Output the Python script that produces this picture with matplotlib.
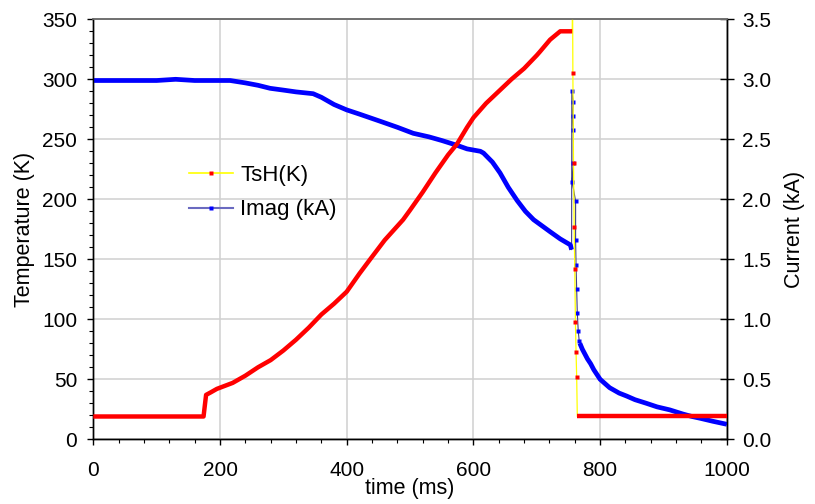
import matplotlib
matplotlib.use("Agg")
import matplotlib.pyplot as plt
from matplotlib.lines import Line2D
from matplotlib.ticker import MultipleLocator

plt.rcParams['font.family'] = ['Liberation Sans', 'DejaVu Sans']

# --- sensor temperature TsH (K) ---
tsh_pre_t = [0, 20, 40, 60, 80, 100, 120, 140, 160, 174, 176, 178, 185, 195, 200,
             220, 240, 260, 280, 300, 320, 340, 360, 380, 400, 420, 437, 460, 489,
             500, 520, 540, 560, 574, 590, 600, 620, 640, 660, 680, 700, 705, 721,
             737, 746, 756]
tsh_pre = [19, 19, 19, 19, 19, 19, 19, 19, 19, 19, 28, 37, 39, 42, 43,
           47, 53, 60, 66, 74, 83, 93, 104, 113, 123, 138, 150, 166, 183,
           191, 206, 222, 237, 246, 260, 268, 280, 290, 300, 309, 320, 323, 333,
           340, 340, 340]
tsh_drop_t = [756.5, 757, 758, 759, 760, 761, 762, 763]
tsh_drop = [372, 305, 230, 177, 142, 98, 73, 52]
tsh_post_t = [764, 800, 850, 900, 950, 1000]
tsh_post = [19, 19, 19, 19, 19, 19]

# --- magnet current Imag (kA) ---
imag_pre_t = [0, 50, 100, 130, 160, 200, 216, 240, 260, 279, 300, 320, 347, 360,
              380, 400, 420, 453, 480, 505, 530, 550, 574, 590, 611, 616, 630,
              642, 655, 669, 682, 695, 708, 721, 737, 753, 755]
imag_pre = [2.99, 2.99, 2.99, 3.00, 2.99, 2.99, 2.99, 2.97, 2.95, 2.925, 2.91,
            2.895, 2.88, 2.85, 2.79, 2.745, 2.71, 2.65, 2.60, 2.55, 2.52, 2.49,
            2.45, 2.42, 2.40, 2.385, 2.31, 2.22, 2.10, 1.99, 1.90, 1.83, 1.78,
            1.73, 1.67, 1.62, 1.58]
imag_spike_t = [755.3, 757.7, 756.5, 757.7, 757.7, 756.0, 761.3, 761.3, 762,
                763, 764, 765.5, 767]
imag_spike = [2.90, 2.81, 2.69, 2.58, 2.30, 2.145, 1.985, 1.66, 1.45, 1.25,
              1.05, 0.90, 0.82]
imag_post_t = [768, 772, 776, 780, 785, 790, 795, 800, 815, 830, 842, 855, 873,
               890, 910, 931, 945, 958, 978, 1000]
imag_post = [0.80, 0.75, 0.71, 0.67, 0.63, 0.58, 0.54, 0.50, 0.43, 0.385, 0.36,
             0.33, 0.30, 0.27, 0.245, 0.21, 0.19, 0.175, 0.15, 0.125]

x_ticks = [0, 200, 400, 600, 800, 1000]
temp_ticks = [0, 50, 100, 150, 200, 250, 300, 350]
curr_ticks = [0.0, 0.5, 1.0, 1.5, 2.0, 2.5, 3.0, 3.5]

FS_TICK = 15
FS_LABEL = 15.5
FS_LEG = 16

fig = plt.figure(figsize=(8.15, 5.04), dpi=100)
ax2 = fig.add_axes([0.1145, 0.1284, 0.7773, 0.8333])   # current axis (drawn below)
ax = fig.add_axes([0.1145, 0.1284, 0.7773, 0.8333], sharex=ax2)  # temperature axis
ax.set_zorder(ax2.get_zorder() + 1)
ax.patch.set_visible(False)

# current: dense band for the slow parts, thin line through the quench spike
all_it = imag_pre_t + imag_spike_t + imag_post_t
all_i = imag_pre + imag_spike + imag_post
ax2.plot(all_it, all_i, color='#404088', lw=0.8, zorder=2)
ax2.plot(imag_pre_t, imag_pre, color='#0000ff', lw=3.4, solid_capstyle='butt', zorder=3)
ax2.plot(imag_post_t, imag_post, color='#0000ff', lw=3.4, solid_capstyle='butt', zorder=3)
ax2.plot(imag_spike_t, imag_spike, ls='none', marker='s', ms=3.3, color='#0000ff',
         mec='none', zorder=4)

# temperature: red marker band with yellow connecting line
all_tt = tsh_pre_t + tsh_drop_t + tsh_post_t
all_k = tsh_pre + tsh_drop + tsh_post
ax.plot(all_tt, all_k, color='#ffff00', lw=0.9, zorder=2)
ax.plot(tsh_pre_t, tsh_pre, color='#ff0000', lw=3.2, solid_capstyle='butt', zorder=3)
ax.plot(tsh_post_t, tsh_post, color='#ff0000', lw=3.2, solid_capstyle='butt', zorder=3)
ax.plot(tsh_drop_t, tsh_drop, ls='none', marker='s', ms=3.3, color='#ff0000',
        mec='none', zorder=4)

ax.set_xlim(0, 1000)
ax.set_ylim(0, 350)
ax2.set_ylim(0, 3.5)

# grid on the lower axes so it stays under every curve
ax2.set_yticks(curr_ticks)
ax2.set_xticks(x_ticks)
ax2.grid(True, color='#d0d0d0', lw=1.1)
ax2.set_axisbelow(True)

ax.set_xticks(x_ticks)
ax.set_yticks(temp_ticks)
ax.xaxis.set_minor_locator(MultipleLocator(40))
ax.yaxis.set_minor_locator(MultipleLocator(10))

ax.tick_params(axis='both', which='major', direction='out', length=4.5, width=1,
               labelsize=FS_TICK, color='black')
ax.tick_params(axis='both', which='minor', direction='out', length=2.8, width=0.8)
ax.tick_params(axis='y', which='both', right=False)
ax.tick_params(axis='y', which='major', pad=7)
ax.tick_params(axis='x', which='major', pad=11)

ax2.yaxis.tick_right()
ax2.yaxis.set_label_position('right')
ax2.tick_params(axis='y', which='major', direction='inout', length=10.5, width=1,
                labelsize=FS_TICK, pad=6, colors='black')
ax2.tick_params(axis='x', which='both', bottom=False, labelbottom=False)
ax2.set_yticklabels([f"{v:.1f}" for v in curr_ticks])

for a in (ax, ax2):
    for s in ('left', 'right', 'bottom'):
        a.spines[s].set_color('black')
        a.spines[s].set_linewidth(1.0)
    a.spines['top'].set_color('#707070')
    a.spines['top'].set_linewidth(1.2)

ax.set_xlabel('time (ms)', fontsize=FS_LABEL, labelpad=-1)
ax.set_ylabel('Temperature (K)', fontsize=FS_LABEL, labelpad=5)
ax2.set_ylabel('Current (kA)', fontsize=FS_LABEL, labelpad=9)

handles = [
    Line2D([], [], color='#ffff00', lw=1.2, marker='s', ms=3, mfc='#ff0000', mec='none'),
    Line2D([], [], color='#6a6ac0', lw=1.5, marker='s', ms=3, mfc='#0000ff', mec='none'),
]
ax.legend(handles, ['TsH(K)', 'Imag (kA)'], loc='center left',
          bbox_to_anchor=(0.137, 0.587), frameon=False, fontsize=FS_LEG,
          handlelength=2.0, handletextpad=0.3, labelspacing=0.6,
          borderaxespad=0, markerscale=1.0)

fig.savefig('out.png', dpi=100)
